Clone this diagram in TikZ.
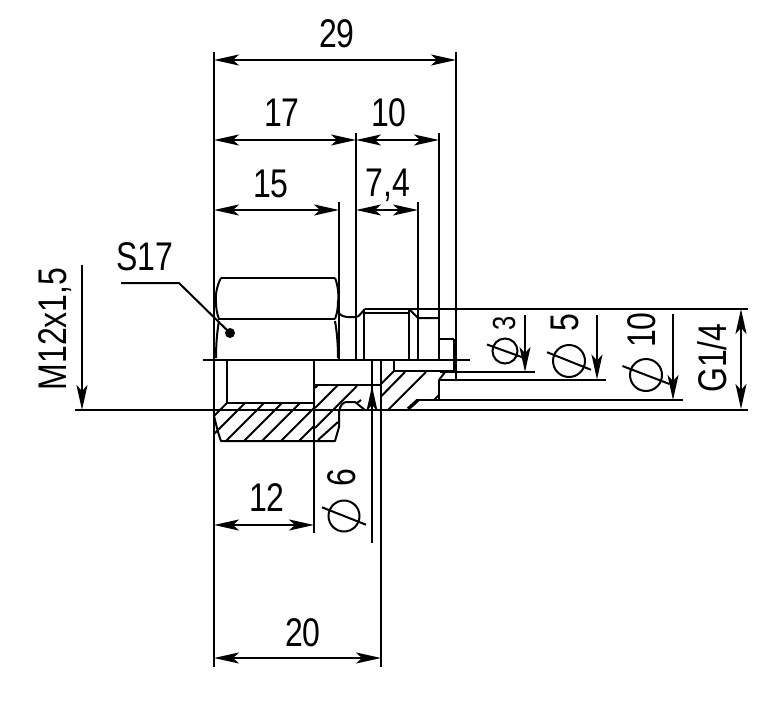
\documentclass[tikz,border=0pt]{standalone}
\usepackage{fontspec}
\setmainfont{Liberation Sans}
\usetikzlibrary{arrows.meta}
\newcommand\dimtxt[2][40]{\scalebox{.8}[1]{\fontsize{#1}{#1}\selectfont #2}}
\tikzset{
  ln/.style={line width=2pt,line cap=butt,line join=round},
  thk/.style={line width=3.4pt},
  hatch/.style={line width=2pt},
  dim/.style={ln,{Stealth[length=25pt,width=11pt,inset=6pt]}-{Stealth[length=25pt,width=11pt,inset=6pt]}},
  dimend/.style={ln,-{Stealth[length=25pt,width=11pt,inset=6pt]}},
  lbl/.style={inner sep=0pt,text=black},
  lblv/.style={inner sep=0pt,rotate=90,text=black},
  dia/.style={circle,draw,line width=2pt,inner sep=0pt,minimum size=#1}
}
\begin{document}
\begin{tikzpicture}[x=1pt,y=-1pt]
\useasboundingbox (0,0) rectangle (779,715);
\fill[white] (0,0) rectangle (779,715);
% extension lines
\foreach \x/\a/\b in {214/52/667,456/52/379,356/133/360,439/133/360,339/202/360,418/202/360,314/360/533,372/360/543,381/360/667}
  \draw[ln] (\x,\a) -- (\x,\b);
% long horizontals
\draw[ln] (203,360) -- (470,360);
\draw[ln] (75,410) -- (748,410);
\draw[ln] (365,309) -- (748,309);
\draw[ln] (440,372) -- (535,372);
\draw[ln] (439,379.5) -- (606,379.5);
\draw[ln] (416,400) -- (683,400);
% nut outline
\draw[ln] (221,278) -- (335,278);
\draw[ln] (218,319) -- (335,319);
\draw[ln] (221,278) .. controls (217,285) and (215,296) .. (216,302) .. controls (216,308) and (217,314) .. (219,319);
\draw[ln] (219,321) .. controls (217,332) and (216,345) .. (216,358);
\draw[ln] (335,278) .. controls (338,285) and (339,296) .. (338,302) .. controls (338,308) and (337,314) .. (335,319);
\draw[ln] (335,321) .. controls (337,332) and (338,345) .. (338,358);
% neck and body
\draw[ln] (338,312) .. controls (341,316) and (344,317) .. (347,317) -- (356,317) .. controls (359,317) and (361,313) .. (365,309);
\draw[ln] (364,309) -- (364,360);
\draw[ln] (409,309) -- (409,360);
\draw[ln] (365,313) -- (409,313);
\draw[ln] (409,309) -- (418,318) -- (439,318);
\draw[ln] (439,339) -- (454,339);
\draw[thk] (454.5,339) -- (454.5,372);
% section, left
\draw[ln] (227,360) -- (227,403) -- (314,403);
\draw[ln] (227,403) -- (214,416);
\draw[ln] (214,416) .. controls (216,424) and (218,433) .. (221,441) -- (335,441) -- (339,427) -- (339,412) .. controls (340,405) and (343,402) .. (347,402) -- (355,402) -- (365,410);
\draw[ln] (361,400) -- (357,403);
% section, middle and right
\draw[ln] (314,385) -- (381,385);
\draw[ln] (394,360) -- (394,371) -- (455,371);
\draw[ln] (439,380) -- (439,400);
% hatching
\foreach \a/\b/\c/\d in {
  214/434/245/403, 226/441/264/403, 244/441/282/403, 262/441/300/403, 281/441/314/408, 299/441/314/426,
  315/388/318/385, 315/408/338/385, 315/428/357/386, 318/440/338/422,
  381/396.5/405/372, 388/410/426/372, 434/400/439/395, 439/380/445/372}
  \draw[hatch] (\a,\b) -- (\c,\d);
\draw[hatch] (381.5,383.5) -- (394,371);
\draw[thk] (408,409) -- (418,400);
% dimension lines
\draw[dim] (214,60) -- (456,60);
\draw[dim] (214,140) -- (356,140);
\draw[dim] (356,140) -- (439,140);
\draw[dim] (214,210) -- (339,210);
\draw[dim] (356,210) -- (418,210);
\draw[dim] (214,525) -- (314,525);
\draw[dim] (214,658) -- (381,658);
\draw[dim] (741,309) -- (741,409);
\draw[dimend] (82,265) -- (82,410);
\draw[dimend] (525,315) -- (525,372);
\draw[dimend] (597,315) -- (597,379.5);
\draw[dimend] (673,314) -- (673,400);
\draw[dimend] (372,411) -- (372,386);
% leader
\coordinate (leadA) at (121,283);
\node[circle,fill=black,inner sep=0pt,minimum size=10pt] (leaddot) at (230,333) {};
\draw[ln] (leadA) -- (179,283) -- (leaddot.center);
% labels
\node[lbl] (t29) at (337,34) {\dimtxt{29}};
\node[lbl] (t17) at (282,113) {\dimtxt{17}};
\node[lbl] (t10) at (389,113) {\dimtxt{10}};
\node[lbl] (t15) at (271,184) {\dimtxt{15}};
\node[lbl] (t74) at (388,185) {\dimtxt{7,4}};
\node[lbl] (t12) at (267,498) {\dimtxt{12}};
\node[lbl] (t20) at (303,633) {\dimtxt{20}};
\node[lbl] (tS) at (145,257) {\dimtxt{S17}};
\node[lblv] (tM) at (55,329) {\dimtxt{M12x1,5}};
\node[lblv] (tG) at (712,358) {\dimtxt{G1/4}};
% diameter signs and their numbers
\node[dia=25pt] (d3) at (505,351) {};
\draw[ln] ([shift={(-18,-6.5)}]d3.center) -- ([shift={(18,6.5)}]d3.center);
\node[lblv] (n3) at (504,323) {\dimtxt[32]{3}};
\node[dia=32pt] (d5) at (569,361) {};
\draw[ln] ([shift={(-22,-8.8)}]d5.center) -- ([shift={(22,8.8)}]d5.center);
\node[lblv] (n5) at (565,323) {\dimtxt{5}};
\node[dia=32pt] (d10) at (646,375) {};
\draw[ln] ([shift={(-23.5,-9)}]d10.center) -- ([shift={(23.5,9)}]d10.center);
\node[lblv] (n10) at (642,330) {\dimtxt{10}};
\node[dia=31pt] (d6) at (344,516) {};
\draw[ln] ([shift={(-22,-8.7)}]d6.center) -- ([shift={(22,8.7)}]d6.center);
\node[lblv] (n6) at (342,478) {\dimtxt{6}};
\end{tikzpicture}
\end{document}
